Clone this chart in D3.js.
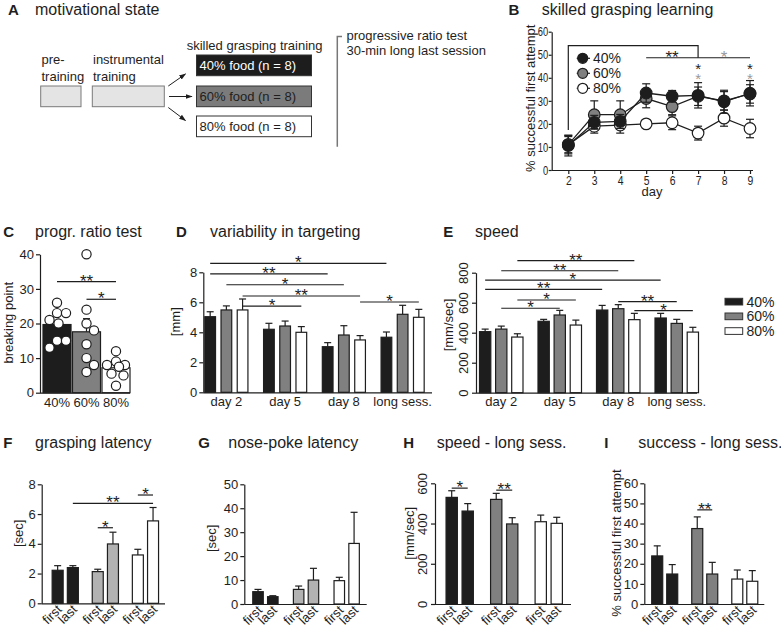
<!DOCTYPE html>
<html><head><meta charset="utf-8">
<script src="https://cdn.jsdelivr.net/npm/d3@7"></script>
<style>body{margin:0;background:#fff}</style>
</head><body><svg id="c" width="781" height="629"></svg>
<script>
// ---------------- DATA ----------------
const groups3 = ["40%", "60%", "80%"];
// B: skilled grasping learning
const daysB = [2, 3, 4, 5, 6, 7, 8, 9];
const bMean40 = [10.6, 20.7, 21.1, 33.4, 32.0, 32.4, 29.6, 33.3];
const bErr40  = [4.5, 3.0, 3.0, 4.0, 2.5, 5.5, 5.0, 5.5];
const bMean60 = [11.0, 24.0, 24.0, 31.0, 27.5, 32.0, 30.0, 33.0];
const bErr60  = [4.0, 6.0, 6.0, 4.0, 3.5, 4.0, 4.0, 4.0];
const bMean80 = [11.0, 19.0, 19.5, 20.0, 20.5, 16.0, 22.5, 18.0];
const bErr80  = [3.5, 3.0, 3.5, 1.5, 3.0, 3.0, 3.5, 4.0];
const bTicksY = [0, 10, 20, 30, 40, 50, 60];
// C: progressive ratio test
const cMean = [19.7, 17.6, 7.2];
const cErr  = [1.0, 3.8, 1.2];
const cPts40 = [26, 23, 23, 21, 20, 15, 15, 13];
const cPts60 = [40, 24, 20, 18, 14, 10, 8, 6];
const cPts80 = [12, 9, 8, 8, 7.5, 5.5, 5, 2];
const cTicksY = [0, 10, 20, 30, 40];
// D: variability in targeting
const sessGroups = ["day 2", "day 5", "day 8", "long sess."];
const dMean40 = [5.04, 4.20, 3.04, 3.67], dErr40 = [0.33, 0.40, 0.27, 0.35];
const dMean60 = [5.49, 4.42, 3.82, 5.20], dErr60 = [0.27, 0.33, 0.62, 0.60];
const dMean80 = [5.49, 4.00, 3.49, 5.00], dErr80 = [0.73, 0.38, 0.29, 0.53];
const dTicksY = [0, 2, 4, 6, 8];
// E: speed
const eMean40 = [407, 476, 551, 498], eErr40 = [17, 13, 31, 31];
const eMean60 = [424, 518, 560, 462], eErr60 = [20, 31, 27, 27];
const eMean80 = [371, 451, 487, 404], eErr80 = [22, 33, 42, 32];
const eTicksY = [0, 200, 400, 600, 800];
// F-I: first vs last, per food group
const sessions = ["first", "last"];
const fFirst = [2.22, 2.13, 3.25], fFirstErr = [0.31, 0.16, 0.38];
const fLast  = [2.40, 3.99, 5.54], fLastErr  = [0.13, 0.79, 0.90];
const fTicksY = [0, 2, 4, 6, 8];
const gFirst = [5.15, 6.1, 9.75], gFirstErr = [0.95, 1.4, 1.4];
const gLast  = [3.06, 10.0, 25.3], gLastErr  = [0.4, 4.9, 13.0];
const gTicksY = [0, 10, 20, 30, 40, 50];
const hFirst = [530, 520, 409], hFirstErr = [33, 30, 33];
const hLast  = [462, 398, 401], hLastErr  = [37, 31, 30];
const hTicksY = [0, 200, 400, 600];
const iFirst = [23.9, 37.5, 12.4], iFirstErr = [5.0, 5.8, 4.5];
const iLast  = [14.9, 14.9, 11.3], iLastErr  = [4.7, 5.8, 5.3];
const iTicksY = [0, 10, 20, 30, 40, 50, 60];
// significance annotations: [group, sub] to [group, sub], level in data units
const sigC = [{a: 0, b: 2, v: 32.1, s: "**"}, {a: 1, b: 2, v: 27.0, s: "*"}];
const sigD = [
  {a: [0,0], b: [3,0], v: 8.6, s: "*"}, {a: [0,0], b: [2,0], v: 7.89, s: "**"},
  {a: [0,1], b: [2,1], v: 7.17, s: "*"}, {a: [0,2], b: [2,2], v: 6.42, s: "**"},
  {a: [0,2], b: [1,2], v: 5.75, s: "*"}, {a: [2,2], b: [3,2], v: 6.02, s: "*"}];
const sigE = [
  {a: [0,2], b: [2,2], v: 880, s: "**"}, {a: [0,1], b: [2,1], v: 813, s: "**"},
  {a: [0,0], b: [3,0], v: 751, s: "*"}, {a: [0,0], b: [2,0], v: 689, s: "**"},
  {a: [0,2], b: [1,2], v: 618, s: "*"}, {a: [0,1], b: [1,1], v: 563, s: "*"},
  {a: [2,1], b: [3,1], v: 607, s: "**"}, {a: [2,2], b: [3,2], v: 547, s: "*"}];
const sigF = [{a: [0,1], b: [2,1], v: 6.72, s: "**"}, {a: [1,0], b: [1,1], v: 5.08, s: "*"},
  {a: [2,0], b: [2,1], v: 7.28, s: "*"}];
const sigH = [{a: [0,0], b: [0,1], v: 576, s: "*"}, {a: [1,0], b: [1,1], v: 566, s: "**"}];
const sigI = [{a: [1,0], b: [1,1], v: 46.8, s: "**"}];

// ---------------- DRAWING ----------------
const FONT = '"Liberation Sans", Arial, Helvetica, sans-serif';
const INK = "#1e1e1e";
const BLACK = "#1d1d1d", GREY = "#808080", LIGHT = "#b2b2b2", WHITE = "#ffffff";
const STAR = 17;
const svg = d3.select("#c").attr("font-family", FONT);
svg.append("rect").attr("width", 781).attr("height", 629).attr("fill", "#fff");

function txt(x, y, s, size, o = {}) {
  return svg.append("text").attr("x", x).attr("y", y).text(s)
    .attr("font-size", size).attr("fill", o.fill || INK)
    .attr("font-weight", o.weight || "normal")
    .attr("text-anchor", o.anchor || "start");
}
function title(lx, tx, y, letter, s) {
  txt(lx, y, letter, 15, {weight: "bold"});
  txt(tx, y, s, 16);
}
function ylab(x, y, s) {
  svg.append("text").attr("transform", `translate(${x},${y}) rotate(-90)`)
    .attr("text-anchor", "middle").attr("dy", "0.35em").attr("font-size", 13)
    .attr("fill", INK).text(s);
}
function hline(x0, x1, y, col = INK, w = 1.2) {
  svg.append("line").attr("x1", x0).attr("x2", x1).attr("y1", y).attr("y2", y)
    .attr("stroke", col).attr("stroke-width", w);
}
function yAxis(y, ticks, x, rot, squeeze, tick = 4) {
  const a = svg.append("g").attr("transform", `translate(${x},0)`)
    .call(d3.axisLeft(y).tickValues(ticks).tickSize(tick).tickSizeOuter(0).tickPadding(2));
  a.select(".domain").attr("stroke", INK).attr("stroke-width", 1.2);
  a.selectAll(".tick line").attr("stroke", INK).attr("stroke-width", 1.2);
  a.selectAll(".tick text").attr("font-size", 13).attr("font-family", FONT).attr("fill", INK);
  if (rot) a.selectAll(".tick text").attr("transform", "rotate(-90)")
    .attr("x", 0).attr("y", -8).attr("dy", "0").attr("text-anchor", "middle");
  if (squeeze) a.selectAll(".tick text").attr("transform", `scale(${squeeze},1)`)
    .attr("x", -(tick + 0.5) / squeeze);
  return a;
}
function sigMark(x0, x1, yy, s, col = INK) {
  hline(x0, x1, yy, col);
  txt((x0 + x1) / 2, yy + 5, s, STAR, {anchor: "middle", fill: col});
}
function errUp(cx, yBase, yTop, cap) {
  svg.append("line").attr("x1", cx).attr("x2", cx).attr("y1", yBase).attr("y2", yTop)
    .attr("stroke", INK).attr("stroke-width", 1.2);
  hline(cx - cap / 2, cx + cap / 2, yTop);
}

// Generic grouped-bar panel
function barPanel(cfg) {
  const y = d3.scaleLinear().domain(cfg.yDomain).range(cfg.yRange);
  const gx = d3.scaleBand().domain(cfg.groups).range(cfg.gRange);
  const n = cfg.subs.length;
  const span = n * cfg.step - (cfg.step - cfg.bw);
  const ix = d3.scaleBand().domain(d3.range(n)).range([-span / 2, span / 2])
    .paddingInner((cfg.step - cfg.bw) / cfg.step).paddingOuter(0);
  const cx = (g, s) => gx(cfg.groups[g]) + gx.bandwidth() / 2 + ix(s) + ix.bandwidth() / 2;
  const y0 = y(0);
  const rows = [];
  cfg.groups.forEach((gname, g) => cfg.subs.forEach((sname, s) =>
    rows.push({g, s, m: cfg.mean(g, s), e: cfg.err(g, s)})));
  rows.forEach(r => errUp(cx(r.g, r.s), y(r.m), y(r.m + r.e), 7));
  svg.append("g").selectAll("rect").data(rows).join("rect")
    .attr("x", r => cx(r.g, r.s) - ix.bandwidth() / 2).attr("width", ix.bandwidth())
    .attr("y", r => y(r.m)).attr("height", r => y0 - y(r.m))
    .attr("fill", r => cfg.fill(r.g, r.s)).attr("stroke", INK).attr("stroke-width", 1.2);
  yAxis(y, cfg.yTicks, cfg.axisX, cfg.rotY);
  hline(cfg.axisX, cfg.axisEnd, y0 + 0.5);
  if (cfg.rotX) {
    rows.forEach(r => {
      svg.append("text").attr("transform", `translate(${cx(r.g, r.s) + 5},${y0 + 7}) rotate(-45)`)
        .attr("text-anchor", "end").attr("font-size", 13).attr("fill", INK).text(cfg.subs[r.s]);
    });
  } else {
    const a = svg.append("g").attr("transform", `translate(0,${y0})`)
      .call(d3.axisBottom(gx).tickSize(0).tickPadding(4));
    a.select(".domain").remove();
    a.selectAll("text").attr("font-size", 13).attr("font-family", FONT).attr("fill", INK);
  }
  (cfg.sig || []).forEach(d => sigMark(cx(d.a[0], d.a[1]), cx(d.b[0], d.b[1]), y(d.v), d.s));
  return {y, cx};
}

// ---------- Panel A ----------
title(8, 35, 15, "A", "motivational state");
svg.append("defs").append("marker").attr("id", "arr").attr("viewBox", "0 0 10 10")
  .attr("refX", 9).attr("refY", 5).attr("markerWidth", 7).attr("markerHeight", 7)
  .attr("orient", "auto").append("path").attr("d", "M0,1.5L10,5L0,8.5z").attr("fill", INK);
svg.append("rect").attr("x", 40.7).attr("y", 86).attr("width", 40.3).attr("height", 20.7)
  .attr("fill", "#e4e4e4").attr("stroke", "#7a7a7a").attr("stroke-width", 1);
svg.append("rect").attr("x", 92.3).attr("y", 86).attr("width", 72).attr("height", 20.7)
  .attr("fill", "#e4e4e4").attr("stroke", "#7a7a7a").attr("stroke-width", 1);
txt(41.5, 63.8, "pre-", 13); txt(41.5, 80.5, "training", 13);
txt(93, 63.8, "instrumental", 13); txt(93, 80.5, "training", 13);
txt(186.7, 49.5, "skilled grasping training", 13);
const boxFills = [BLACK, "#7b7b7b", WHITE];
const boxY = [55, 86, 116];
groups3.forEach((gname, i) => {
  svg.append("rect").attr("x", 196.5).attr("y", boxY[i]).attr("width", 115).attr("height", 20.7)
    .attr("fill", boxFills[i]).attr("stroke", "#333").attr("stroke-width", 1);
  txt(199.5, boxY[i] + 15, `${gname} food (n = 8)`, 13, {fill: i === 0 ? "#fff" : INK});
});
[[168.3, 86, 185.5, 74], [169, 96.5, 192, 96.5], [168.3, 107.5, 185.5, 120.5]].forEach(p =>
  svg.append("line").attr("x1", p[0]).attr("y1", p[1]).attr("x2", p[2]).attr("y2", p[3])
    .attr("stroke", INK).attr("stroke-width", 1).attr("marker-end", "url(#arr)"));
svg.append("path").attr("d", "M342,36.5H337.3V146.7").attr("fill", "none")
  .attr("stroke", "#777").attr("stroke-width", 1.5);
txt(346.5, 39.5, "progressive ratio test", 13);
txt(346.5, 54.5, "30-min long last session", 13);

// ---------- Panel B ----------
title(508.5, 541.7, 15, "B", "skilled grasping learning");
{
  const x = d3.scaleLinear().domain([2, 9]).range([568.3, 750]);
  const y = d3.scaleLinear().domain([0, 60]).range([170, 31.7]);
  yAxis(y, bTicksY, 551.7, false, 0.72, 3);
  hline(551.7, 753, 170.5);
  const ax = svg.append("g").attr("transform", "translate(0,170)")
    .call(d3.axisBottom(x).tickValues(daysB).tickFormat(d3.format("d")).tickSize(4).tickPadding(2));
  ax.select(".domain").remove();
  ax.selectAll(".tick line").attr("stroke", INK).attr("stroke-width", 1.2);
  ax.selectAll("text").attr("font-size", 13).attr("font-family", FONT).attr("fill", INK)
    .attr("transform", "scale(0.8,1)");
  txt(652, 196, "day", 13, {anchor: "middle"});
  ylab(530.5, 98.3, "% successful first attempt");
  const series = [
    {m: bMean80, e: bErr80, fill: WHITE},
    {m: bMean60, e: bErr60, fill: GREY},
    {m: bMean40, e: bErr40, fill: BLACK}];
  const line = d3.line().x((d, i) => x(daysB[i])).y(d => y(d));
  series.forEach(s => {
    svg.append("path").attr("d", line(s.m)).attr("fill", "none").attr("stroke", INK).attr("stroke-width", 1.3);
    s.m.forEach((v, i) => {
      const cxp = x(daysB[i]);
      svg.append("line").attr("x1", cxp).attr("x2", cxp).attr("y1", y(v - s.e[i])).attr("y2", y(v + s.e[i]))
        .attr("stroke", INK).attr("stroke-width", 1.2);
      hline(cxp - 4, cxp + 4, y(v - s.e[i]));
      hline(cxp - 4, cxp + 4, y(v + s.e[i]));
    });
    svg.append("g").selectAll("circle").data(s.m).join("circle")
      .attr("cx", (d, i) => x(daysB[i])).attr("cy", d => y(d)).attr("r", 5.8)
      .attr("fill", s.fill).attr("stroke", INK).attr("stroke-width", 1.2);
  });
  // significance
  svg.append("path").attr("d", `M${x(2)},${y(17.3)}V${y(54)}H${x(7)}V${y(48.7)}`)
    .attr("fill", "none").attr("stroke", INK).attr("stroke-width", 1.2);
  hline(x(5), x(9), y(48.7));
  txt(x(6), y(48.7) + 5, "**", STAR, {anchor: "middle"});
  txt(x(8), y(48.7) + 5, "*", STAR, {anchor: "middle", fill: "#999"});
  [7, 9].forEach(d => {
    txt(x(d), y(45.5) + 9, "*", 15, {anchor: "middle"});
    txt(x(d), y(41) + 9, "*", 15, {anchor: "middle", fill: "#999"});
  });
  // legend
  [{t: "40%", f: BLACK}, {t: "60%", f: GREY}, {t: "80%", f: WHITE}].forEach((l, i) => {
    const ly = 58.3 + i * 15;
    hline(576.7, 590, ly, INK, 1.2);
    svg.append("circle").attr("cx", 582.7).attr("cy", ly).attr("r", 5)
      .attr("fill", l.f).attr("stroke", INK).attr("stroke-width", 1.2);
    txt(593, ly + 5, l.t, 14);
  });
}

// ---------- Panel C ----------
title(3.3, 35, 237, "C", "progr. ratio test");
{
  const y = d3.scaleLinear().domain([0, 40]).range([392.7, 254.3]);
  const x = d3.scaleBand().domain(groups3).range([43, 130]).paddingInner(0.05);
  const fills = [BLACK, GREY, WHITE];
  groups3.forEach((gname, i) => errUp(x(gname) + x.bandwidth() / 2, y(cMean[i]), y(cMean[i] + cErr[i]), 7));
  svg.append("g").selectAll("rect").data(cMean).join("rect")
    .attr("x", (d, i) => x(groups3[i])).attr("width", x.bandwidth())
    .attr("y", d => y(d)).attr("height", d => y(0) - y(d))
    .attr("fill", (d, i) => fills[i]).attr("stroke", INK).attr("stroke-width", 1.2);
  // points, simple beeswarm constrained to the bar width
  const r = 4.6;
  const lim = x.bandwidth() / 2 - r + 1;
  [cPts40, cPts60, cPts80].forEach((pts, gi) => {
    const c0 = x(groups3[gi]) + x.bandwidth() / 2;
    const placed = [];
    pts.forEach(v => {
      const py = y(v);
      let best = c0, bestD = -1;
      for (let k = 0; k < 60; k++) {
        const off = (k % 2 ? 1 : -1) * Math.ceil(k / 2) * 1.5;
        if (Math.abs(off) > lim) continue;
        const cand = c0 + off;
        const dmin = placed.length ? d3.min(placed, p => Math.hypot(p[0] - cand, p[1] - py)) : 99;
        if (dmin >= 2 * r * 1.02) { best = cand; bestD = dmin; break; }
        if (dmin > bestD) { bestD = dmin; best = cand; }
      }
      placed.push([best, py]);
    });
    svg.append("g").selectAll("circle").data(placed).join("circle")
      .attr("cx", d => d[0]).attr("cy", d => d[1]).attr("r", r)
      .attr("fill", "#fff").attr("stroke", INK).attr("stroke-width", 1.2);
  });
  yAxis(y, cTicksY, 40, false);
  hline(40, 130, y(0) + 0.5);
  const a = svg.append("g").attr("transform", `translate(0,${y(0)})`)
    .call(d3.axisBottom(x).tickSize(0).tickPadding(5));
  a.select(".domain").remove();
  a.selectAll("text").attr("font-size", 13).attr("font-family", FONT).attr("fill", INK);
  ylab(8.5, 322.7, "breaking point");
  const cc = i => x(groups3[i]) + x.bandwidth() / 2;
  sigC.forEach(d => sigMark(cc(d.a), cc(d.b), y(d.v), d.s));
}

// ---------- Panel D ----------
title(176, 210, 237, "D", "variability in targeting");
{
  const M = [dMean40, dMean60, dMean80], E = [dErr40, dErr60, dErr80];
  const fills = [BLACK, GREY, WHITE];
  barPanel({groups: sessGroups, subs: groups3, mean: (g, s) => M[s][g], err: (g, s) => E[s][g],
    fill: (g, s) => fills[s], gRange: [197, 432], step: 16.2, bw: 10.7,
    axisX: 203.3, axisEnd: 432, yDomain: [0, 8], yRange: [392.3, 272.3], yTicks: dTicksY,
    rotY: false, rotX: false, sig: sigD});
  ylab(175, 321.7, "[mm]");
}

// ---------- Panel E ----------
title(443.3, 475, 237, "E", "speed");
{
  const M = [eMean40, eMean60, eMean80], E = [eErr40, eErr60, eErr80];
  const fills = [BLACK, GREY, WHITE];
  barPanel({groups: sessGroups, subs: groups3, mean: (g, s) => M[s][g], err: (g, s) => E[s][g],
    fill: (g, s) => fills[s], gRange: [472, 706], step: 16.1, bw: 11.3,
    axisX: 476, axisEnd: 697, yDomain: [0, 800], yRange: [392.7, 272.7], yTicks: eTicksY,
    rotY: true, rotX: false, sig: sigE});
  ylab(448.3, 325, "[mm/sec]");
  groups3.forEach((gname, i) => {
    svg.append("rect").attr("x", 725).attr("y", 298.3 + i * 14.7).attr("width", 17.7).attr("height", 6.7)
      .attr("fill", fills[i]).attr("stroke", "#333").attr("stroke-width", 1);
    txt(746.5, 306.7 + i * 14.7, gname, 14);
  });
}

// ---------- Panels F-I ----------
function firstLast(first, firstErr, last, lastErr, fills, opts) {
  const M = [first, last], E = [firstErr, lastErr];
  return barPanel(Object.assign({groups: groups3, subs: sessions,
    mean: (g, s) => M[s][g], err: (g, s) => E[s][g], fill: (g) => fills[g], rotX: true}, opts));
}
title(3.3, 35, 448, "F", "grasping latency");
firstLast(fFirst, fFirstErr, fLast, fLastErr, [BLACK, LIGHT, WHITE],
  {gRange: [45.2, 165.5], step: 15.2, bw: 11, axisX: 41.7, axisEnd: 165,
   yDomain: [0, 8], yRange: [603.3, 484.3], yTicks: fTicksY, rotY: false, sig: sigF});
ylab(18.3, 533.3, "[sec]");

title(198.3, 228.3, 448, "G", "nose-poke latency");
firstLast(gFirst, gFirstErr, gLast, gLastErr, [BLACK, LIGHT, WHITE],
  {gRange: [245.1, 367], step: 14.8, bw: 10.5, axisX: 244.3, axisEnd: 366.7,
   yDomain: [0, 50], yRange: [604, 484.3], yTicks: gTicksY, rotY: false, sig: []});
ylab(211.7, 538.3, "[sec]");

title(403.3, 436.7, 448, "H", "speed - long sess.");
firstLast(hFirst, hFirstErr, hLast, hLastErr, [BLACK, GREY, WHITE],
  {gRange: [437.45, 571], step: 16, bw: 11.3, axisX: 435, axisEnd: 571,
   yDomain: [0, 600], yRange: [604, 483.3], yTicks: hTicksY, rotY: true, sig: sigH});
ylab(409.3, 533.3, "[mm/sec]");

title(604.3, 638.3, 448, "I", "success - long sess.");
firstLast(iFirst, iFirstErr, iLast, iLastErr, [BLACK, GREY, WHITE],
  {gRange: [644.7, 764.8], step: 15, bw: 11, axisX: 644.3, axisEnd: 764.3,
   yDomain: [0, 60], yRange: [604, 483.3], yTicks: iTicksY, rotY: false, sig: sigI});
ylab(616.7, 543, "% successful first attempt");
</script></body></html>
